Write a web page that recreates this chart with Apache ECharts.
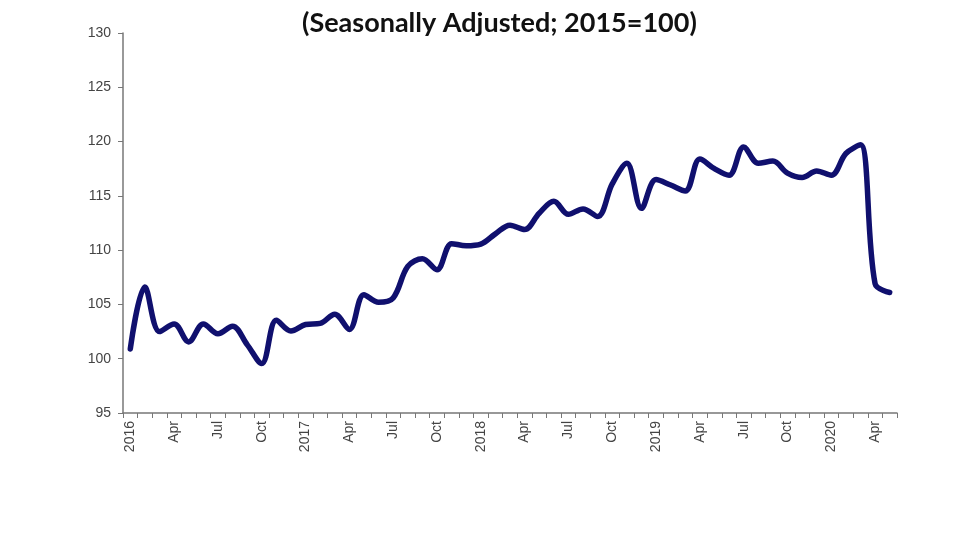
<!DOCTYPE html>
<html>
<head>
<meta charset="utf-8">
<script src="https://cdn.jsdelivr.net/npm/echarts@6/dist/echarts.min.js"></script>
<style>html,body{margin:0;padding:0;background:#fff;}#c{width:980px;height:552px;}</style>
</head>
<body>
<div id="c"></div>
<script>
const titleText = '(Seasonally Adjusted; 2015=100)';
const months = ['Jan','Feb','Mar','Apr','May','Jun','Jul','Aug','Sep','Oct','Nov','Dec'];
const years = ['2016','2017','2018','2019','2020'];
const categories = [];
years.forEach(y => months.forEach((m, i) => categories.push(i === 0 ? y : m)));
categories.length = 53; // Jan 2016 .. May 2020
const values = [
  100.9, 106.6, 102.5, 103.2, 101.55, 103.2, 102.3, 103.0, 101.3, 99.55, 103.55, 102.55,
  103.15, 103.25, 104.1, 102.7, 105.9, 105.2, 105.6, 108.5, 109.2, 108.2, 110.6, 110.4,
  110.55, 111.5, 112.3, 111.9, 113.4, 114.5, 113.3, 113.8, 113.1, 116.1, 118.0, 113.85,
  116.5, 116.0, 115.45, 118.4, 117.5, 116.9, 119.5, 118.0, 118.2, 117.1, 116.7, 117.3,
  116.9, 118.9, 119.7, 106.9, 106.1
];
const yTicks = {min: 95, max: 130, interval: 5};

const chart = echarts.init(document.getElementById('c'));
chart.setOption({
  animation: false,
  backgroundColor: '#ffffff',
  title: {
    text: titleText, left: 297, top: 5,
    textStyle: {fontFamily: 'Lato', fontWeight: 'bold', fontSize: 27, color: '#111'}
  },
  grid: {left: 123, right: 83, top: 33, bottom: 139, containLabel: false},
  xAxis: {
    type: 'category', data: categories, boundaryGap: true,
    axisLine: {lineStyle: {color: '#777', width: 1.5}},
    axisTick: {show: true, interval: 0, length: 5, lineStyle: {color: '#777'}},
    axisLabel: {
      rotate: 90, interval: (i) => i % 3 === 0, margin: 8,
      fontFamily: 'Liberation Sans', fontSize: 14, color: '#444'
    },
    splitLine: {show: false}
  },
  yAxis: {
    type: 'value', min: yTicks.min, max: yTicks.max, interval: yTicks.interval,
    axisLine: {show: true, lineStyle: {color: '#777', width: 1.5}},
    axisTick: {show: true, length: 5, lineStyle: {color: '#777'}},
    axisLabel: {fontFamily: 'Liberation Sans', fontSize: 14, color: '#444', margin: 12},
    splitLine: {show: false}
  },
  series: [{
    type: 'line', data: values, smooth: 0.35, symbol: 'none',
    lineStyle: {color: '#10106e', width: 5.5, cap: 'round', join: 'round'}
  }]
});
</script>
</body>
</html>
